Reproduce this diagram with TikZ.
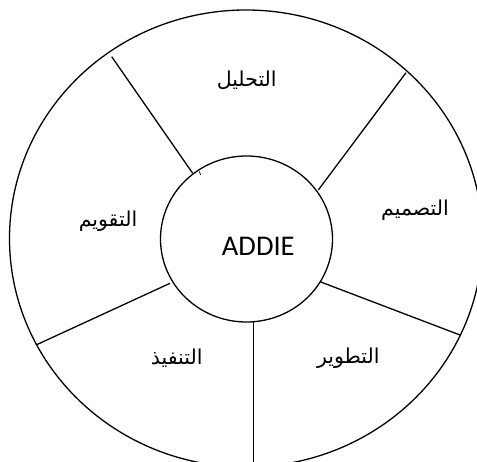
\documentclass[tikz,border=0pt]{standalone}
\usepackage{fontspec}
\setmainfont{Carlito}
\newfontfamily\arabicfont[Script=Arabic]{DejaVu Sans}
\TeXXeTstate=1
\usetikzlibrary{shapes.geometric}
\begin{document}
\begin{tikzpicture}[x=1pt,y=-1pt,line width=1.3pt,
  ar/.style={font=\arabicfont\fontsize{20.5}{24}\selectfont,inner sep=0pt},
  hubstyle/.style={draw,ellipse,minimum width=172pt,minimum height=166pt,inner sep=0pt}]
\useasboundingbox (0,0) rectangle (477,462);
\clip (0,0) rectangle (477,462);
\draw (246,238.5) ellipse [x radius=236.5, y radius=228.5];
\node[hubstyle] (hub) at (246.5,239) {};
\node[font=\fontsize{28.5}{32}\selectfont,inner sep=0pt] (addie) at (258.3,246.7) {ADDIE};
% outer spoke ends
\coordinate (o1) at (111.7,56.7);
\coordinate (o2) at (406,72.7);
\coordinate (o3) at (460,335);
\coordinate (o4) at (253.3,462);
\coordinate (o5) at (36,345);
\coordinate (i1) at (192.7,173.3);
\coordinate (i2) at (318.3,190);
\coordinate (i3) at (320,281.7);
\coordinate (i4) at (253.3,321.7);
\coordinate (i5) at (170,283.3);
\draw (o1) -- (i1);
\draw (o2) -- (i2);
\draw (o3) -- (i3);
\draw (o4) -- (i4);
\draw (o5) -- (i5);
\coordinate (t1) at (199.5,171.5);
\coordinate (t2) at (200.5,175);
\draw[line width=0.8pt] (t1) -- (t2);
\node[ar] (l1) at (246.7,80) {\beginR التحليل\endR};
\node[ar] (l2) at (415,210) {\beginR التصميم\endR};
\node[ar] (l3) at (348.3,358) {\beginR التطوير\endR};
\node[ar] (l4) at (176.7,358) {\beginR التنفيذ\endR};
\node[ar] (l5) at (108,221.7) {\beginR التقويم\endR};
\end{tikzpicture}
\end{document}
